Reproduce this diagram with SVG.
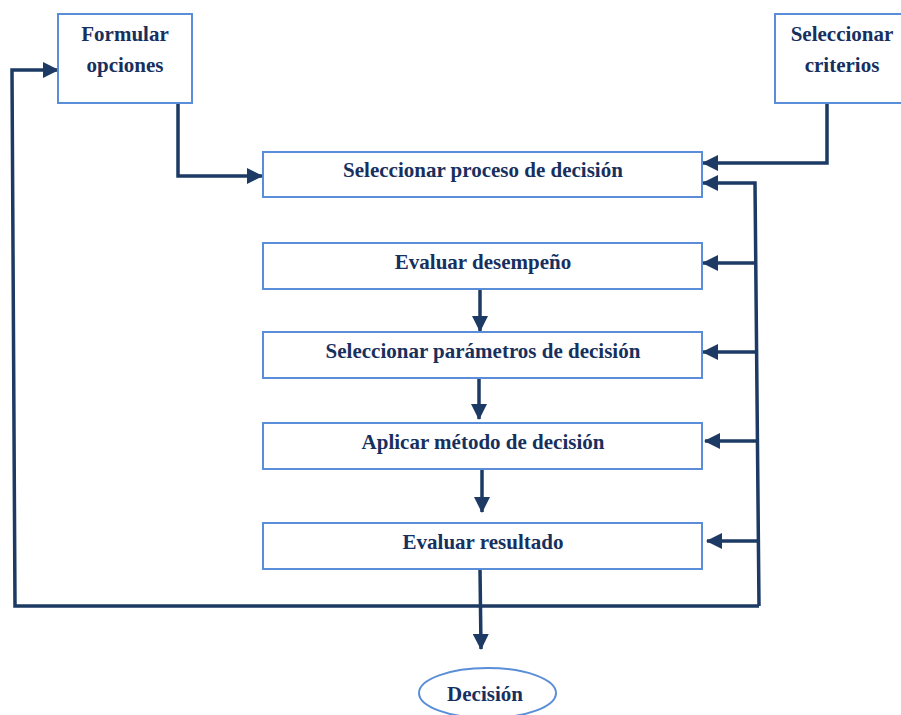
<svg xmlns="http://www.w3.org/2000/svg" width="901" height="715" viewBox="0 0 901 715">
<defs>
<style>
.box{fill:#fff;stroke:#5B8ED8;stroke-width:2}
.t{font-family:"Liberation Serif","Times New Roman",serif;font-weight:bold;font-size:21px;fill:#17305E;text-anchor:middle}
.c{fill:none;stroke:#1C3A63;stroke-width:3.5;stroke-linejoin:miter}
.a{marker-end:url(#ah)}
</style>
<marker id="ah" markerUnits="userSpaceOnUse" markerWidth="16" markerHeight="16" viewBox="0 0 16 16" refX="15" refY="8" orient="auto">
<path d="M0,0 L16,8 L0,16 z" fill="#1C3A63"/>
</marker>
</defs>
<rect width="901" height="715" fill="#fff"/>
<g id="connectors">
<path class="c a" d="M759,606 L755,183 L703,183"/>
<path class="c a" d="M759,606 L15,606 L12,70 L58,70"/>
<path class="c a" d="M756,263 L703,263"/>
<path class="c a" d="M756,352 L703,352"/>
<path class="c a" d="M757,441 L705,441"/>
<path class="c a" d="M758,541 L707,541"/>
<path class="c a" d="M178,103 L178,176 L262,176"/>
<path class="c a" d="M827,103 L827,163 L703,163"/>
<path class="c a" d="M480,289 L480,331"/>
<path class="c a" d="M479,378 L479,419"/>
<path class="c a" d="M482,469 L482,512"/>
<path class="c a" d="M480,569 L481,649"/>
</g>
<g id="formular">
<rect class="box" x="58" y="14" width="134" height="89"/>
<text class="t" x="125" y="41">Formular</text>
<text class="t" x="125" y="72">opciones</text>
</g>
<g id="criterios">
<rect class="box" x="775" y="14" width="132" height="89"/>
<text class="t" x="842" y="41">Seleccionar</text>
<text class="t" x="842" y="72">criterios</text>
</g>
<g id="proceso">
<rect class="box" x="263" y="152" width="439" height="45"/>
<text class="t" x="483" y="177">Seleccionar proceso de decisión</text>
</g>
<g id="desempeno">
<rect class="box" x="263" y="243" width="439" height="46"/>
<text class="t" x="483" y="269">Evaluar desempeño</text>
</g>
<g id="parametros">
<rect class="box" x="263" y="332" width="439" height="46"/>
<text class="t" x="483" y="358">Seleccionar parámetros de decisión</text>
</g>
<g id="metodo">
<rect class="box" x="263" y="423" width="439" height="46"/>
<text class="t" x="483" y="449">Aplicar método de decisión</text>
</g>
<g id="resultado">
<rect class="box" x="263" y="523" width="439" height="46"/>
<text class="t" x="483" y="549">Evaluar resultado</text>
</g>
<g id="decision">
<ellipse class="box" cx="487.5" cy="693" rx="68.5" ry="25"/>
<text class="t" x="485" y="701">Decisión</text>
</g>
</svg>
